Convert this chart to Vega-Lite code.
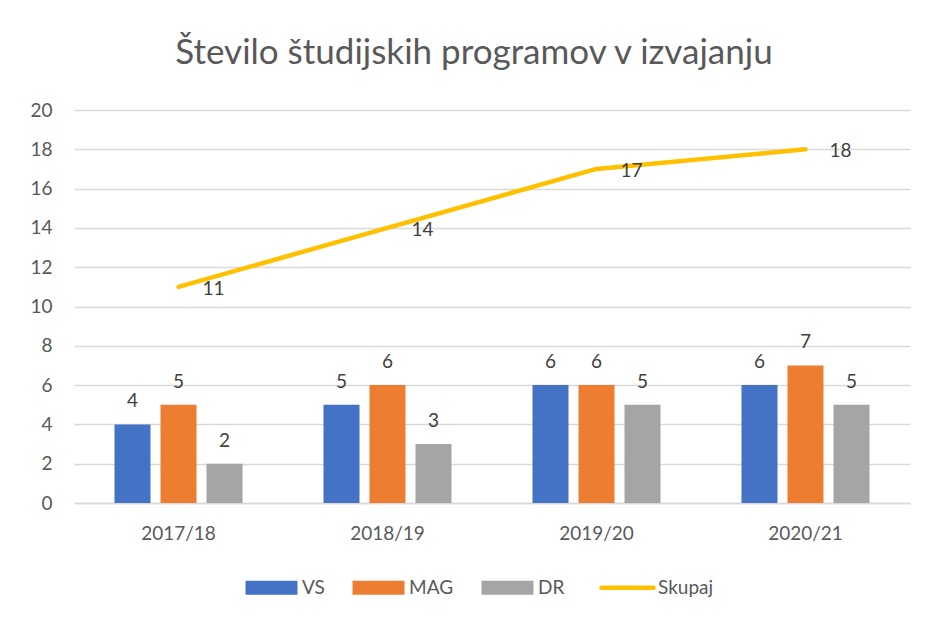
{
  "$schema": "https://vega.github.io/schema/vega-lite/v6.json",
  "width": 836,
  "height": 393,
  "autosize": {"type": "none"},
  "padding": {"left": 74, "top": 110, "right": 17, "bottom": 116},
  "background": "white",
  "title": {
    "text": "Število študijskih programov v izvajanju",
    "font": "Lato",
    "fontSize": 35,
    "fontWeight": 400,
    "color": "#595959",
    "anchor": "middle",
    "dx": -18,
    "baseline": "alphabetic",
    "offset": 2
  },
  "config": {"view": {"stroke": null}, "font": "Lato"},
  "data": {
    "values": [
      {"year": "2017/18", "series": "VS", "value": 4},
      {"year": "2017/18", "series": "MAG", "value": 5},
      {"year": "2017/18", "series": "DR", "value": 2},
      {"year": "2017/18", "series": "Skupaj", "value": 11},
      {"year": "2018/19", "series": "VS", "value": 5},
      {"year": "2018/19", "series": "MAG", "value": 6},
      {"year": "2018/19", "series": "DR", "value": 3},
      {"year": "2018/19", "series": "Skupaj", "value": 14},
      {"year": "2019/20", "series": "VS", "value": 6},
      {"year": "2019/20", "series": "MAG", "value": 6},
      {"year": "2019/20", "series": "DR", "value": 5},
      {"year": "2019/20", "series": "Skupaj", "value": 17},
      {"year": "2020/21", "series": "VS", "value": 6},
      {"year": "2020/21", "series": "MAG", "value": 7},
      {"year": "2020/21", "series": "DR", "value": 5},
      {"year": "2020/21", "series": "Skupaj", "value": 18}
    ]
  },
  "encoding": {
    "x": {
      "field": "year",
      "type": "nominal",
      "title": null,
      "scale": {"paddingInner": 0, "paddingOuter": 0},
      "axis": {
        "labelAngle": 0,
        "labelFontSize": 19,
        "labelColor": "#595959",
        "labelPadding": 21,
        "ticks": false,
        "domainColor": "#D9D9D9",
        "domainWidth": 1.5
      }
    },
    "y": {
      "field": "value",
      "type": "quantitative",
      "title": null,
      "scale": {"domain": [0, 20]},
      "axis": {
        "values": [0, 2, 4, 6, 8, 10, 12, 14, 16, 18, 20],
        "labelFontSize": 19,
        "labelColor": "#595959",
        "labelPadding": 22,
        "ticks": false,
        "domain": false,
        "gridColor": "#D9D9D9",
        "gridWidth": 1.5
      }
    }
  },
  "layer": [
    {
      "transform": [{"filter": "datum.series !== 'Skupaj'"}],
      "mark": {"type": "bar"},
      "encoding": {
        "xOffset": {"field": "series", "type": "nominal", "sort": ["VS", "MAG", "DR"], "scale": {"paddingInner": 0.217, "paddingOuter": 0.88}},
        "color": {
          "field": "series",
          "type": "nominal",
          "scale": {"domain": ["VS", "MAG", "DR", "Skupaj"], "range": ["#4472C4", "#ED7D31", "#A5A5A5", "#FFC000"]},
          "legend": {
            "title": null,
            "orient": "none",
            "direction": "horizontal",
            "legendX": 188,
            "legendY": 468,
            "labelFontSize": 19,
            "labelColor": "#595959",
            "labelOffset": 21,
            "columnPadding": 27,
            "symbolSize": 2704,
            "symbolType": "M-1,-0.27H1V0.27H-1Z",
            "encode": {
              "symbols": {
                "update": {
                  "shape": {"signal": "datum.value === 'Skupaj' ? 'stroke' : 'M-1,-0.27H1V0.27H-1Z'"},
                  "fill": {"signal": "datum.value === 'Skupaj' ? 'transparent' : scale('color', datum.value)"},
                  "stroke": {"signal": "scale('color', datum.value)"},
                  "strokeWidth": {"signal": "datum.value === 'Skupaj' ? 4.5 : 0"},
                  "strokeCap": {"value": "round"},
                  "opacity": {"value": 1},
                  "fillOpacity": {"value": 1}
                }
              }
            }
          }
        }
      }
    },
    {
      "transform": [{"filter": "datum.series !== 'Skupaj'"}],
      "mark": {"type": "text", "baseline": "alphabetic", "dy": -17, "fontSize": 19, "color": "#404040"},
      "encoding": {
        "xOffset": {"field": "series", "type": "nominal", "sort": ["VS", "MAG", "DR"], "scale": {"paddingInner": 0.217, "paddingOuter": 0.88}},
        "text": {"field": "value", "type": "quantitative"}
      }
    },
    {
      "transform": [{"filter": "datum.series === 'Skupaj'"}],
      "mark": {"type": "line", "strokeWidth": 4.5, "strokeCap": "round", "strokeJoin": "round"},
      "encoding": {
        "color": {"field": "series", "type": "nominal"}
      }
    },
    {
      "transform": [{"filter": "datum.series === 'Skupaj'"}],
      "mark": {"type": "text", "align": "left", "baseline": "middle", "dx": 24, "dy": 2, "fontSize": 19, "color": "#404040"},
      "encoding": {
        "text": {"field": "value", "type": "quantitative"}
      }
    }
  ]
}
